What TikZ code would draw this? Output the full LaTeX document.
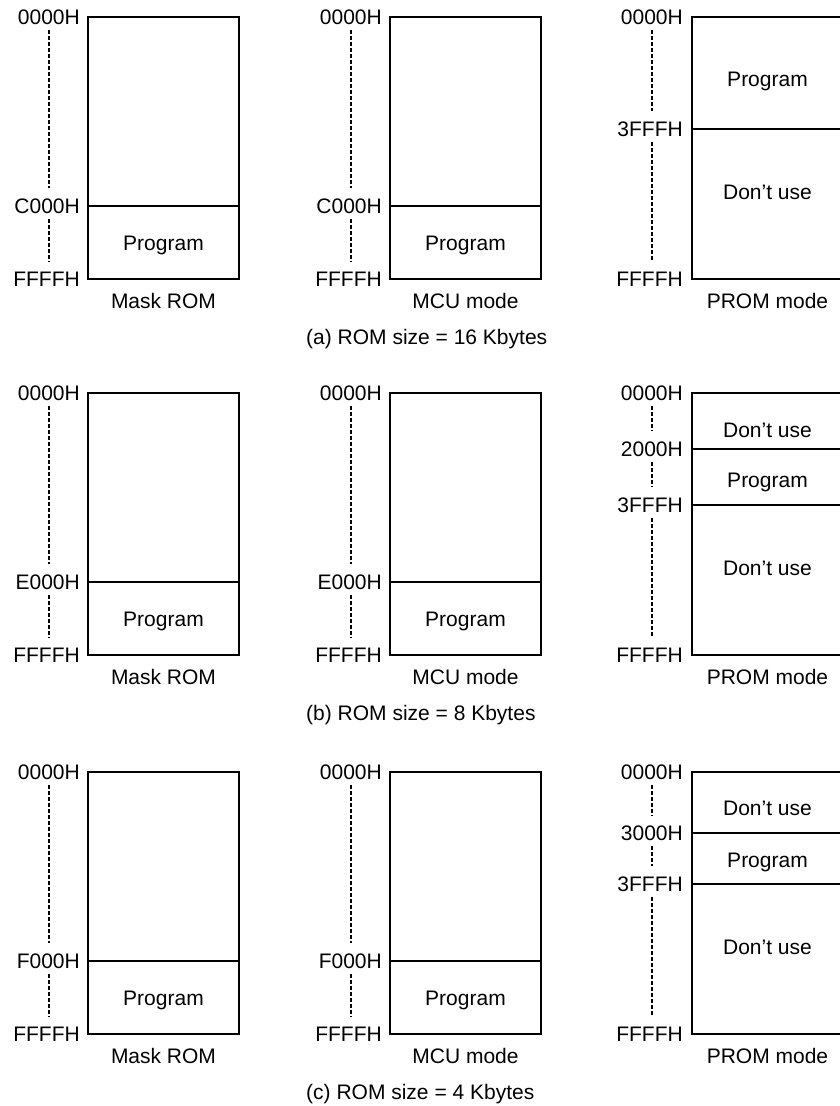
\documentclass[tikz,border=0pt]{standalone}
\usepackage{fontspec}
\setmainfont{Liberation Sans}
\usetikzlibrary{calc}
\tikzset{
  mem/.style={draw,line width=1.8pt},
  split/.style={line width=1.5pt},
  addr/.style={anchor=east,inner sep=0pt,font=\fontsize{21}{25}\selectfont},
  area/.style={anchor=base,inner sep=0pt,font=\fontsize{21}{25}\selectfont},
  dots/.style={line width=2pt,dash pattern=on 3.5pt off 2.5pt,shorten <=5.5pt,shorten >=10pt},
}
\begin{document}
\begin{tikzpicture}[x=1pt,y=-1pt]
  \useasboundingbox (0,0) rectangle (840,1106);
  \clip (0,0) rectangle (840,1106);
  % Mask ROM and MCU mode columns, one row per ROM size
  \foreach \r/\t/\adr/\kb in {a/17/C000H/16,b/393/E000H/8,c/772/F000H/4}{
    \foreach \c/\x/\mode in {m/88/Mask ROM,u/390/MCU mode}{
      \draw[mem] (\x,\t) rectangle ++(151,262);
      \draw[split] (\x,\t+189) -- ++(151,0);
      \node[addr] (\r\c0) at (\x-8,\t) {0000H};
      \node[addr] (\r\c1) at (\x-8,\t+189) {\adr};
      \node[addr] (\r\c2) at (\x-8,\t+262) {FFFFH};
      \draw[dots] (\r\c0.south) -- (\r\c0.south |- \r\c1.north);
      \draw[dots] (\r\c0.south |- \r\c1.south) -- (\r\c0.south |- \r\c2.north);
      \node[area] (\r\c p) at (\x+75.5,\t+233) {Program};
      \node[area] (\r\c n) at (\x+75.5,\t+291.5) {\mode};
    }
    \node[area,anchor=base west] (cap\r) at (306,\t+327) {(\r) ROM size = \kb\ Kbytes};
    % PROM mode column
    \draw[mem] (692,\t) rectangle ++(151,262);
    \draw[split] (692,\t+112) -- ++(151,0);
    \node[addr] (\r p0) at (683,\t) {0000H};
    \node[addr] (\r p3) at (683,\t+112) {3FFFH};
    \node[addr] (\r p4) at (683,\t+262) {FFFFH};
    \draw[dots] (\r p0.south |- \r p3.south) -- (\r p0.south |- \r p4.north);
    \node[area] (\r pn) at (767.5,\t+291.5) {PROM mode};
    \node[area] (\r pd) at (767.5,\t+182) {Don’t use};
  }
  % (a) 16 Kbytes
  \draw[dots] (ap0.south) -- (ap0.south |- ap3.north);
  \node[area] (app) at (767.5,86) {Program};
  % (b) 8 Kbytes
  \draw[split] (692,449) -- ++(151,0);
  \node[addr] (bp1) at (683,449) {2000H};
  \draw[dots] (bp0.south) -- (bp0.south |- bp1.north);
  \draw[dots] (bp0.south |- bp1.south) -- (bp0.south |- bp3.north);
  \node[area] (bpu) at (767.5,437) {Don’t use};
  \node[area] (bpp) at (767.5,487) {Program};
  % (c) 4 Kbytes
  \draw[split] (692,833) -- ++(151,0);
  \node[addr] (cp1) at (683,833) {3000H};
  \draw[dots] (cp0.south) -- (cp0.south |- cp1.north);
  \draw[dots] (cp0.south |- cp1.south) -- (cp0.south |- cp3.north);
  \node[area] (cpu) at (767.5,815) {Don’t use};
  \node[area] (cpp) at (767.5,867) {Program};
\end{tikzpicture}
\end{document}
